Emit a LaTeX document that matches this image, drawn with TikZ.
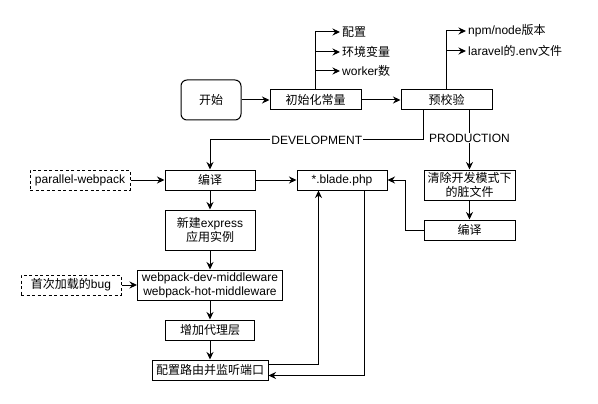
\documentclass[tikz,border=0pt]{standalone}
\usepackage{fontspec}
\setmainfont{Liberation Sans}
\newfontfamily\cjk{Noto Sans CJK SC}
\usetikzlibrary{arrows.meta,calc}
\tikzset{
  box/.style={draw, line width=1pt, minimum height=20pt, inner sep=0pt, align=center, font=\fontsize{12}{14}\selectfont},
  dbox/.style={box, dash pattern=on 3pt off 2.5pt},
  lbl/.style={inner sep=2pt, anchor=west, font=\fontsize{12}{14}\selectfont},
  elbl/.style={fill=white, inner sep=1pt, font=\fontsize{12}{14}\selectfont},
  arr/.style={line width=1pt, -{Stealth[length=7.5pt,width=7pt]}}
}
\begin{document}
\begin{tikzpicture}[x=1pt,y=-1pt]
\useasboundingbox[fill=white] (0,0) rectangle (598,404);
% top row
\node[box, rounded corners=6pt, minimum width=60pt, minimum height=40pt] (start) at (211,100) {\cjk 开始};
\node[box, minimum width=91pt] (init) at (315.5,100) {\cjk 初始化常量};
\node[box, minimum width=91pt] (check) at (446.5,100) {\cjk 预校验};
\node[lbl] (t1) at (340,32) {\cjk 配置};
\node[lbl] (t2) at (340,52) {\cjk 环境变量};
\node[lbl] (t3) at (340,71) {worker{\cjk 数}};
\node[lbl] (t4) at (466,31) {npm/node{\cjk 版本}};
\node[lbl] (t5) at (466,51) {laravel{\cjk 的}.env{\cjk 文件}};
% middle
\node[dbox, minimum width=100pt] (pw) at (80,180) {parallel-webpack};
\node[box, minimum width=90pt] (bianyi) at (210,180) {\cjk 编译};
\node[box, minimum width=90pt] (blade) at (342,180) {*.blade.php};
\node[box, minimum width=91pt, minimum height=30pt] (clean) at (469.5,185) {\cjk 清除开发模式下\\\cjk 的脏文件};
\node[box, minimum width=91pt] (bianyi2) at (469.5,230) {\cjk 编译};
\node[box, minimum width=90pt, minimum height=40pt] (express) at (210,230) {{\cjk 新建}express\\\cjk 应用实例};
\node[box, minimum width=145pt, minimum height=30pt] (webpack) at (210,285) {webpack-dev-middleware\\webpack-hot-middleware};
\node[dbox, minimum width=100pt] (bug) at (71,285) {{\cjk 首次加载的}bug};
\node[box, minimum width=89pt] (proxy) at (210,330) {\cjk 增加代理层};
\node[box, minimum width=116pt] (route) at (210,370) {\cjk 配置路由并监听端口};
% connectors top
\draw[arr] (start) -- (init);
\draw[arr] (init) -- (check);
\draw[arr] (init.north) |- (t1.west);
\draw[arr] (init.north |- t2.west) -- (t2.west);
\draw[arr] (init.north |- t3.west) -- (t3.west);
\draw[arr] (check.north) |- (t4.west);
\draw[arr] (check.north |- t5.west) -- (t5.west);
% branches
\coordinate (devs) at ($(check.south west)+(23,0)$);
\coordinate (devy) at (0,140);
\draw[arr] (devs) -- (devs |- devy) -- node[elbl]{DEVELOPMENT} (bianyi.north |- devy) -- (bianyi.north);
\draw[arr] (check.south -| clean.north) -- node[elbl, pos=0.47]{PRODUCTION} (clean.north);
% middle connectors
\draw[arr] (pw) -- (bianyi);
\draw[arr] (bianyi) -- (blade);
\draw[arr] (bianyi) -- (express);
\draw[arr] (express) -- (webpack);
\draw[arr] (bug) -- (webpack);
\draw[arr] (webpack) -- (proxy);
\draw[arr] (proxy) -- (route);
\draw[arr] (clean) -- (bianyi2);
\draw[arr] (bianyi2.west) -- ++(-18,0) |- (blade.east);
\draw[arr] ($(route.north east)+(0,5)$) -| ($(blade.south west)+(22,0)$);
\draw[arr] ($(blade.south west)+(68,0)$) |- ($(route.south east)+(0,-5)$);
\end{tikzpicture}
\end{document}
